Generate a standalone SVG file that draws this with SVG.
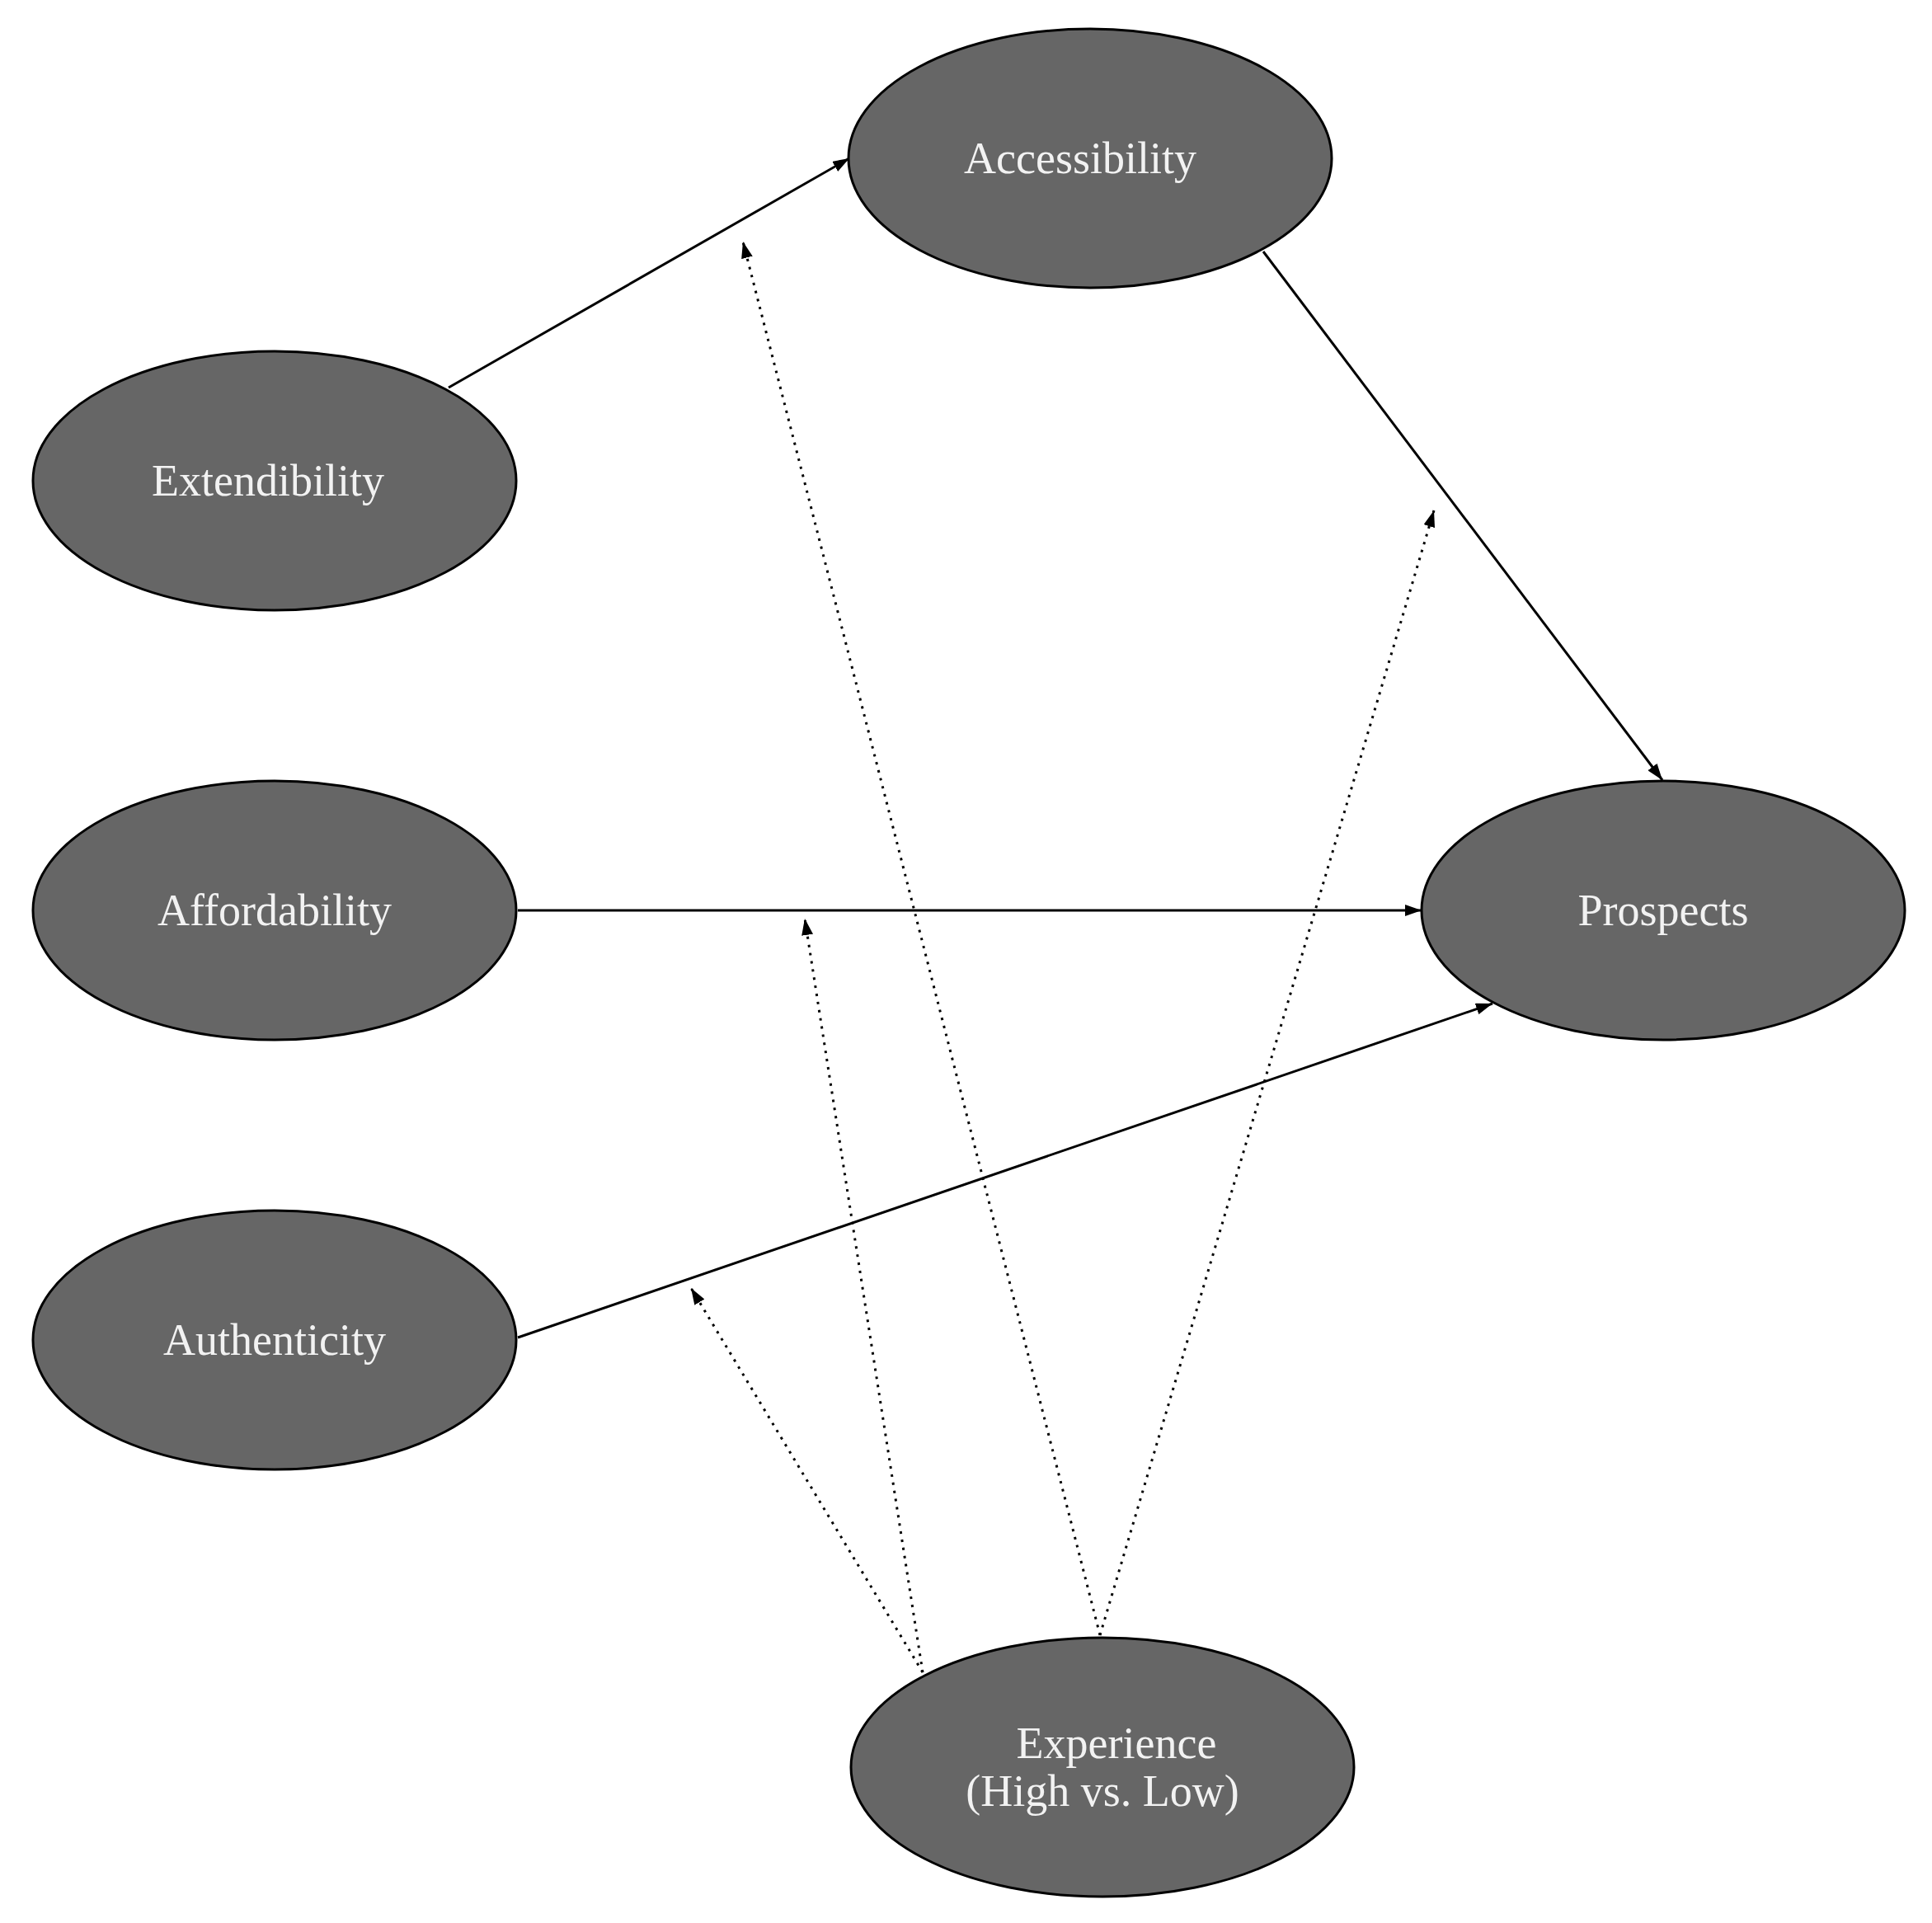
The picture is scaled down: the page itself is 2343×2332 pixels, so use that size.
<svg xmlns="http://www.w3.org/2000/svg" width="2343" height="2332" viewBox="0 0 2343 2332">
<style>
.n{fill:#666;stroke:#000;stroke-width:3}
.t{font-family:"Liberation Serif",serif;font-size:54px;fill:#f2f2f2;text-anchor:middle}
.s{stroke:#000;stroke-width:3;fill:none}
.d{stroke:#000;stroke-width:3;fill:none;stroke-dasharray:3 7}
</style>
<defs><marker id="a" viewBox="0 0 10 10" refX="10" refY="5" markerWidth="7" markerHeight="7" orient="auto" markerUnits="userSpaceOnUse" style="overflow:visible"><path d="M0,0 L10,5 L0,10 z" fill="#000" transform="scale(2)translate(-5,-2.5)"/></marker>
<marker id="m" viewBox="0 0 20 14" refX="20" refY="7" markerWidth="20" markerHeight="14" orient="auto" markerUnits="userSpaceOnUse"><path d="M0,0 L20,7 L0,14 z" fill="#000"/></marker></defs>
<rect width="2343" height="2332" fill="#fff"/>
<g id="connectors">
<line class="s" x1="544" y1="470" x2="1030" y2="192" marker-end="url(#m)"/>
<line class="s" x1="1532" y1="305" x2="2016" y2="946" marker-end="url(#m)"/>
<line class="s" x1="628" y1="1104" x2="1724" y2="1104" marker-end="url(#m)"/>
<line class="s" x1="628" y1="1622" x2="1810" y2="1217" marker-end="url(#m)"/>
<line class="d" x1="1334" y1="1983" x2="901" y2="293" marker-end="url(#m)"/>
<line class="d" x1="1334" y1="1983" x2="1739" y2="619" marker-end="url(#m)"/>
<line class="d" x1="1119" y1="2028" x2="976" y2="1114" marker-end="url(#m)"/>
<line class="d" x1="1119" y1="2028" x2="838" y2="1562" marker-end="url(#m)"/>
</g>
<g id="accessibility"><ellipse class="n" cx="1322" cy="192" rx="293" ry="157"/><text class="t" x="1310" y="210">Accessibility</text></g>
<g id="extendibility"><ellipse class="n" cx="333" cy="583" rx="293" ry="157"/><text class="t" x="325" y="601">Extendibility</text></g>
<g id="affordability"><ellipse class="n" cx="333" cy="1104" rx="293" ry="157"/><text class="t" x="333" y="1122">Affordability</text></g>
<g id="authenticity"><ellipse class="n" cx="333" cy="1625" rx="293" ry="157"/><text class="t" x="333" y="1643">Authenticity</text></g>
<g id="prospects"><ellipse class="n" cx="2017" cy="1104" rx="293" ry="157"/><text class="t" x="2017" y="1122">Prospects</text></g>
<g id="experience"><ellipse class="n" cx="1337" cy="2143" rx="305" ry="157"/><text class="t" x="1354" y="2132">Experience</text><text class="t" x="1337" y="2190">(High vs. Low)</text></g>
</svg>
